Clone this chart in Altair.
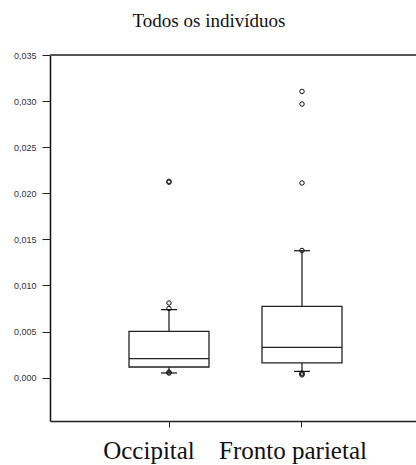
import altair as alt
import pandas as pd

categories = ["Occipital", "Fronto parietal"]
q1 = [0.00116, 0.00160]
median = [0.00206, 0.00329]
q3 = [0.00502, 0.00773]
whisk_lo = [0.00051, 0.00068]
whisk_hi = [0.00738, 0.01377]

out_cat = ["Occipital", "Occipital", "Occipital", "Occipital", "Occipital", "Occipital",
           "Fronto parietal", "Fronto parietal", "Fronto parietal", "Fronto parietal",
           "Fronto parietal", "Fronto parietal", "Fronto parietal"]
out_val = [0.0213, 0.0212, 0.0081, 0.0075, 0.0006, 0.0005,
           0.03105, 0.02968, 0.02112, 0.0138, 0.0005, 0.0004, 0.0003]

y_ticks = [0.0, 0.005, 0.010, 0.015, 0.020, 0.025, 0.030, 0.035]
y_top = 0.035

stats = pd.DataFrame({"cat": categories, "q1": q1, "med": median, "q3": q3,
                      "lo": whisk_lo, "hi": whisk_hi})
outs = pd.DataFrame({"cat": out_cat, "val": out_val})

xscale = alt.Scale(domain=categories, paddingInner=0, paddingOuter=0.376, align=0.525)
yscale = alt.Scale(domain=[-0.0047, 0.035], nice=False, zero=False)

x_enc = alt.X("cat:N", scale=xscale, sort=categories, title=None,
              axis=alt.Axis(labelAngle=0, labelFont="Liberation Serif", labelFontSize=25,
                            labelColor="#111", labelPadding=11, tickSize=6, tickColor="#222",
                            domainColor="#222", domainWidth=1.5,
                            labelOffset={"condition": {"test": "datum.value == 'Occipital'",
                                                       "value": -20},
                                         "value": -9}))
y_axis = alt.Axis(values=y_ticks, labelExpr="replace(format(datum.value, '.3f'), '.', ',')",
                  labelFont="Liberation Sans", labelFontSize=9, labelColor="#333",
                  labelPadding=6, tickSize=8, tickColor="#222", domainColor="#111",
                  domainWidth=1.5, grid=False, title=None)

base = alt.Chart(stats)

top_line = alt.Chart(pd.DataFrame({"t": [y_top]})).mark_rule(
    color="#555", strokeWidth=2).encode(y=alt.Y("t:Q", scale=yscale))
whisk = base.mark_rule(color="#111", strokeWidth=1.2).encode(
    x=x_enc, y=alt.Y("lo:Q", scale=yscale, axis=y_axis), y2="hi:Q")
box = base.mark_bar(size=80, fill="white", stroke="#222", strokeWidth=1.3).encode(
    x=x_enc, y=alt.Y("q1:Q", scale=yscale), y2="q3:Q")
med_t = base.mark_tick(size=80, thickness=1.2, color="#222", opacity=1).encode(
    x=x_enc, y=alt.Y("med:Q", scale=yscale))
cap_hi = base.mark_tick(size=16, thickness=1.2, color="#111", opacity=1).encode(
    x=x_enc, y=alt.Y("hi:Q", scale=yscale))
cap_lo = base.mark_tick(size=16, thickness=1.2, color="#111", opacity=1).encode(
    x=x_enc, y=alt.Y("lo:Q", scale=yscale))
pts = alt.Chart(outs).mark_point(shape="circle", size=20, filled=False, color="#111",
                                 strokeWidth=1, opacity=1).encode(
    x=x_enc, y=alt.Y("val:Q", scale=yscale))

chart = alt.layer(whisk, top_line, box, med_t, cap_hi, cap_lo, pts).properties(
    width=366, height=366,
    title=alt.TitleParams("Todos os indivíduos", font="Liberation Serif", fontSize=19,
                          fontWeight="normal", color="#111", anchor="middle", dx=-24,
                          offset=20),
    autosize=alt.AutoSizeParams(type="none"),
    padding={"left": 50, "top": 55, "right": 0, "bottom": 44},
).configure_view(strokeWidth=0)

chart.save("out.html", embed_options={"renderer": "svg", "actions": False})
